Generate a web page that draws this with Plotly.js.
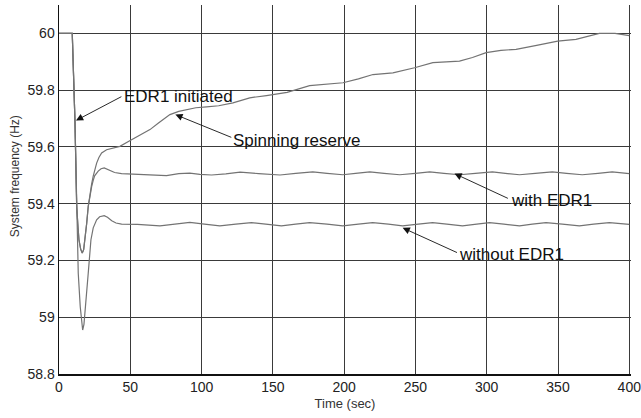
<!DOCTYPE html>
<html>
<head>
<meta charset="utf-8">
<script src="https://cdn.plot.ly/plotly-3.0.1.min.js"></script>
<style>html,body{margin:0;padding:0;background:#fff;}#chart{width:641px;height:418px;}</style>
</head>
<body>
<div id="chart"></div>
<script>
// Spinning reserve
const tSpin = [0, 9.3, 11.2, 12.4, 13.3, 14.0, 15.2, 16.3, 17.3, 18.2, 19.4, 20.5, 21.7, 22.9, 24.0, 25.0, 26.4, 28.0, 29.9, 33.4, 38, 42.7, 49, 52, 58, 63.8, 70, 77.8, 84, 89.5, 96, 103.5, 112, 122, 133.8, 145.5, 160, 175.8, 188, 199.2, 210, 220.2, 234.2, 249.4, 262.2, 280.9, 290, 299.6, 310, 320.6, 335, 349.8, 362.6, 372, 379, 390, 400];
const fSpin = [60, 60, 59.69, 59.39, 59.32, 59.273, 59.24, 59.226, 59.238, 59.273, 59.33, 59.39, 59.435, 59.47, 59.497, 59.52, 59.543, 59.563, 59.579, 59.59, 59.597, 59.602, 59.62, 59.628, 59.645, 59.661, 59.685, 59.714, 59.725, 59.732, 59.738, 59.741, 59.745, 59.755, 59.773, 59.781, 59.792, 59.816, 59.822, 59.826, 59.84, 59.855, 59.861, 59.879, 59.897, 59.902, 59.915, 59.932, 59.94, 59.944, 59.958, 59.973, 59.979, 59.99, 60.0, 60.0, 59.992];

// With EDR1
const tWith = [0, 9.3, 11.2, 12.4, 13.3, 14.0, 15.2, 16.3, 17.3, 18.2, 19.4, 20.5, 21.7, 22.9, 24.0, 25.0, 27.5, 29.5, 31.7, 35, 39, 43.9, 56.7, 66, 75.4, 84, 91.8, 98.8, 107, 117, 127, 140, 155, 166, 178, 188, 199, 208, 218, 228, 239, 250, 260, 270, 281, 292, 304, 313, 323, 334, 346, 356, 367, 378, 388, 400];
const fWith = [60, 60, 59.69, 59.39, 59.32, 59.273, 59.24, 59.226, 59.238, 59.273, 59.33, 59.39, 59.43, 59.46, 59.482, 59.498, 59.515, 59.523, 59.526, 59.52, 59.51, 59.506, 59.503, 59.5, 59.499, 59.506, 59.508, 59.503, 59.501, 59.505, 59.511, 59.506, 59.501, 59.507, 59.512, 59.507, 59.502, 59.507, 59.512, 59.507, 59.502, 59.507, 59.512, 59.507, 59.502, 59.507, 59.512, 59.507, 59.502, 59.507, 59.512, 59.507, 59.502, 59.507, 59.512, 59.506];

// Without EDR1
const tWithout = [0, 9.3, 11.2, 12.4, 13.5, 14.9, 15.8, 16.6, 17.5, 18.7, 20.5, 22.4, 24, 26.4, 28.5, 31.7, 34, 37, 40, 43.9, 55, 70.8, 80, 91.8, 102, 112.8, 124, 135, 145, 156, 166, 175.8, 188, 199, 210, 220, 231, 241, 252, 262, 272, 283, 293, 302, 312, 323, 332, 341.6, 353, 365, 375, 386, 400];
const fWithout = [60, 60, 59.69, 59.39, 59.155, 59.037, 58.98, 58.955, 58.975, 59.037, 59.155, 59.273, 59.315, 59.343, 59.354, 59.358, 59.352, 59.34, 59.332, 59.328, 59.327, 59.322, 59.327, 59.334, 59.328, 59.322, 59.328, 59.333, 59.328, 59.322, 59.328, 59.333, 59.328, 59.322, 59.328, 59.333, 59.328, 59.322, 59.328, 59.333, 59.328, 59.322, 59.328, 59.333, 59.328, 59.322, 59.328, 59.333, 59.328, 59.322, 59.328, 59.333, 59.327];

const xTicks = [0, 50, 100, 150, 200, 250, 300, 350, 400];
const yTicks = [58.8, 59, 59.2, 59.4, 59.6, 59.8, 60];
const yTickLabels = ['58.8', '59', '59.2', '59.4', '59.6', '59.8', '60'];

// Annotation labels: [text, label x, label y, arrow tip x, tip y, arrow tail x, tail y]
const labels = [
  ['EDR1 initiated', 44.1, 59.776, 11.9, 59.693, 44.1, 59.778],
  ['Spinning reserve', 120.5, 59.622, 81.6, 59.714, 121.2, 59.633],
  ['with EDR1', 315.9, 59.412, 277.4, 59.506, 315.2, 59.418],
  ['without EDR1', 279.5, 59.222, 241, 59.315, 279.5, 59.227]
];

const lineStyle = {color: '#737373', width: 1.2};
const traces = [
  {x: tWithout, y: fWithout, mode: 'lines', line: lineStyle, hoverinfo: 'skip'},
  {x: tWith, y: fWith, mode: 'lines', line: lineStyle, hoverinfo: 'skip'},
  {x: tSpin, y: fSpin, mode: 'lines', line: lineStyle, hoverinfo: 'skip'}
];

const annotations = [];
labels.forEach(l => {
  annotations.push({
    x: l[1], y: l[2], xref: 'x', yref: 'y', text: l[0], showarrow: false,
    xanchor: 'left', yanchor: 'middle',
    font: {family: 'Liberation Sans, Arial, sans-serif', size: 17, color: '#111'}
  });
  annotations.push({
    x: l[3], y: l[4], xref: 'x', yref: 'y', ax: l[5], ay: l[6], axref: 'x', ayref: 'y',
    text: ' ', showarrow: true, arrowhead: 2, arrowsize: 1.6, arrowwidth: 0.9,
    arrowcolor: '#111', font: {size: 1}, borderpad: 0, standoff: 0
  });
});
// y-axis title (placed as rotated text so it can sit where the original has it)
annotations.push({
  xref: 'paper', yref: 'paper', x: -0.077, y: 0.536, xanchor: 'center', yanchor: 'middle',
  text: 'System frequency (Hz)', textangle: -90, showarrow: false,
  font: {family: 'Liberation Sans, Arial, sans-serif', size: 12, color: '#333'}
});

const layout = {
  width: 641, height: 418,
  margin: {l: 59, r: 10, t: 5, b: 44, pad: 0},
  paper_bgcolor: '#fff', plot_bgcolor: '#fff',
  showlegend: false,
  font: {family: 'Liberation Sans, Arial, sans-serif', color: '#222'},
  xaxis: {
    range: [0, 401.2], tickvals: xTicks, ticktext: xTicks.map(String),
    showgrid: true, gridcolor: '#3a3a3a', gridwidth: 1,
    showline: true, linecolor: '#111', linewidth: 1.5, mirror: false,
    zeroline: false, ticks: '', tickfont: {size: 14, color: '#222'},
    ticklabeloverflow: 'allow',
    title: {text: 'Time (sec)', font: {size: 13, color: '#333'}, standoff: 4}
  },
  yaxis: {
    range: [58.8, 60.1], tickvals: yTicks, ticktext: yTickLabels,
    showgrid: true, gridcolor: '#3a3a3a', gridwidth: 1,
    showline: true, linecolor: '#111', linewidth: 1.5, mirror: false,
    zeroline: false, ticks: '', tickfont: {size: 14, color: '#222'}
  },
  annotations: annotations
};

Plotly.newPlot('chart', traces, layout, {displayModeBar: false, staticPlot: true});
</script>
</body>
</html>
